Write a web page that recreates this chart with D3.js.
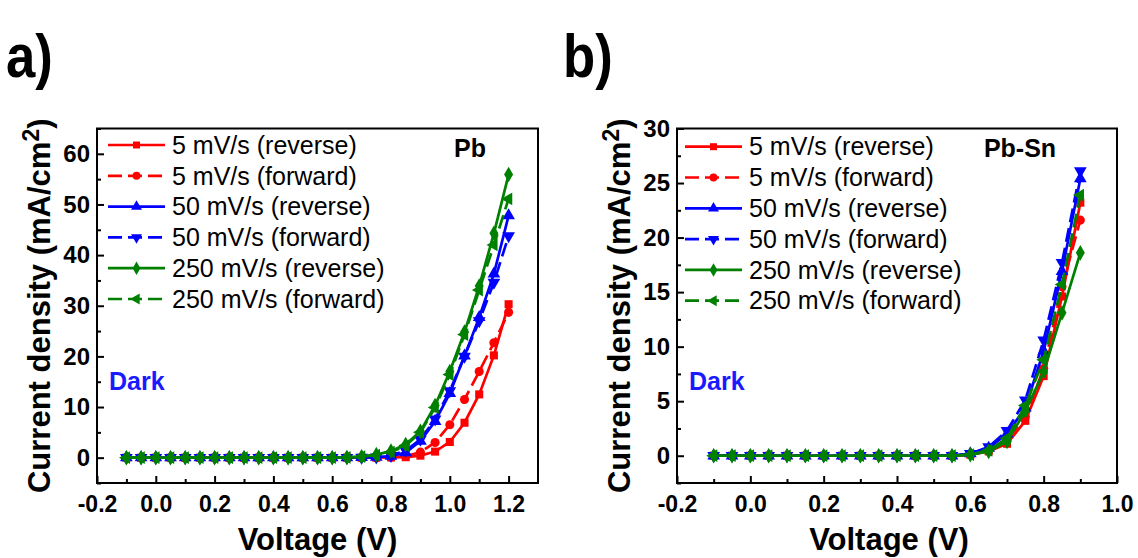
<!DOCTYPE html>
<html>
<head>
<meta charset="utf-8">
<script src="https://cdn.jsdelivr.net/npm/d3@7"></script>
<style>
  body { margin: 0; background: #fff; }
  svg { font-family: "Liberation Sans", Arial, sans-serif; }
  .axis text { font-weight: bold; fill: #000; }
  .axis line { stroke: #000; stroke-width: 2; }
  .axis path { display: none; }
</style>
</head>
<body>
<svg id="chart" width="1138" height="558"></svg>
<script>
// ---- data: panel a (Pb) ----
const voltageA = [-0.1, -0.05, 0, 0.05, 0.1, 0.15, 0.2, 0.25, 0.3, 0.35, 0.4, 0.45, 0.5, 0.55,
                  0.6, 0.65, 0.7, 0.75, 0.8, 0.85, 0.9, 0.95, 1.0, 1.05, 1.1, 1.15, 1.2];
const redRevA   = [0, 0, 0, 0, 0, 0, 0, 0, 0, 0, 0, 0, 0, 0, 0, 0, 0, 0, 0.05, 0.1, 0.4, 1.2, 3.1, 6.9, 12.5, 20.2, 30.3];
const redFwdA   = [0, 0, 0, 0, 0, 0, 0, 0, 0, 0, 0, 0, 0, 0, 0, 0, 0, 0.05, 0.1, 0.3, 1.1, 3.0, 6.5, 11.5, 17.0, 22.7, 28.7];
const blueRevA  = [0, 0, 0, 0, 0, 0, 0, 0, 0, 0, 0, 0, 0, 0, 0, 0, 0.05, 0.1, 0.3, 1.0, 3.3, 7.2, 12.7, 20.1, 27.7, 36.3, 47.8];
const blueFwdA  = [0, 0, 0, 0, 0, 0, 0, 0, 0, 0, 0, 0, 0, 0, 0, 0, 0.05, 0.1, 0.4, 1.4, 3.6, 7.6, 13.2, 20.0, 27.0, 34.6, 43.8];
const greenRevA = [0, 0, 0, 0, 0, 0, 0, 0, 0, 0, 0, 0, 0, 0, 0, 0.05, 0.2, 0.6, 1.3, 2.6, 5.2, 10.3, 17.0, 24.8, 33.9, 44.3, 55.9];
const greenFwdA = [0, 0, 0, 0, 0, 0, 0, 0, 0, 0, 0, 0, 0, 0, 0, 0.05, 0.2, 0.5, 1.1, 2.4, 5.0, 9.9, 16.4, 24.3, 33.1, 42.0, 51.1];

// ---- data: panel b (Pb-Sn) ----
const voltageB = [-0.1, -0.05, 0, 0.05, 0.1, 0.15, 0.2, 0.25, 0.3, 0.35, 0.4, 0.45, 0.5, 0.55,
                  0.6, 0.65, 0.7, 0.75, 0.8, 0.85, 0.9];
const redRevB   = [0, 0, 0, 0, 0, 0, 0, 0, 0, 0, 0, 0, 0, 0, 0.1, 0.4, 1.1, 3.2, 7.3, 14.6, 23.2];
const redFwdB   = [0, 0, 0, 0, 0, 0, 0, 0, 0, 0, 0, 0, 0, 0, 0.1, 0.5, 1.4, 3.6, 8.0, 15.5, 21.6];
const blueRevB  = [0, 0, 0, 0, 0, 0, 0, 0, 0, 0, 0, 0, 0, 0, 0.2, 0.7, 2.0, 4.4, 9.6, 16.9, 25.4];
const blueFwdB  = [0, 0, 0, 0, 0, 0, 0, 0, 0, 0, 0, 0, 0, 0, 0.2, 0.8, 2.3, 5.1, 10.6, 17.7, 26.1];
const greenRevB = [0, 0, 0, 0, 0, 0, 0, 0, 0, 0, 0, 0, 0, 0, 0.1, 0.4, 1.3, 4.1, 7.7, 13.1, 18.6];
const greenFwdB = [0, 0, 0, 0, 0, 0, 0, 0, 0, 0, 0, 0, 0, 0, 0.1, 0.5, 1.6, 4.6, 8.8, 15.7, 23.9];

// ---- legend / ticks ----
const seriesNames = ['5 mV/s (reverse)', '5 mV/s (forward)', '50 mV/s (reverse)',
                     '50 mV/s (forward)', '250 mV/s (reverse)', '250 mV/s (forward)'];
const xTicksA = [-0.2, 0.0, 0.2, 0.4, 0.6, 0.8, 1.0, 1.2];
const xMinorA = [-0.1, 0.1, 0.3, 0.5, 0.7, 0.9, 1.1];
const yTicksA = [0, 10, 20, 30, 40, 50, 60];
const yMinorA = [-5, 5, 15, 25, 35, 45, 55, 65];
const xTicksB = [-0.2, 0.0, 0.2, 0.4, 0.6, 0.8, 1.0];
const xMinorB = [-0.1, 0.1, 0.3, 0.5, 0.7, 0.9];
const yTicksB = [0, 5, 10, 15, 20, 25, 30];
const yMinorB = [-2.5, 2.5, 7.5, 12.5, 17.5, 22.5, 27.5];

// styles for the six sweeps
const seriesStyle = [
    { color: '#ff0000', dash: null,   symbol: d3.symbolSquare,   size: 65, rot: 0 },
    { color: '#ff0000', dash: '14,6', symbol: d3.symbolCircle,   size: 65, rot: 0 },
    { color: '#0000ff', dash: null,   symbol: d3.symbolTriangle, size: 70, rot: 0 },
    { color: '#0000ff', dash: '14,6', symbol: d3.symbolTriangle, size: 70, rot: 180 },
    { color: '#008000', dash: null,   symbol: d3.symbolDiamond,  size: 70, rot: 0 },
    { color: '#008000', dash: '14,6', symbol: d3.symbolTriangle, size: 70, rot: -90 }
];

class JVChart {
    constructor(_config, _x, _series) {
        this.config = _config;
        this.xData = _x;
        this.series = _series;
        this.initVis();
    }

    initVis() {
        let vis = this;
        const c = vis.config;
        vis.svg = d3.select('#chart');
        vis.g = vis.svg.append('g');

        vis.xScale = d3.scaleLinear().domain(c.xDomain).range([c.left, c.right]);
        vis.yScale = d3.scaleLinear().domain(c.yDomain).range([c.bottom, c.top]);

        // minor ticks first
        vis.g.append('g')
            .attr('class', 'axis')
            .attr('transform', `translate(0,${c.bottom})`)
            .call(d3.axisBottom(vis.xScale).tickValues(c.xMinor).tickSize(-4).tickFormat(''));
        vis.g.append('g')
            .attr('class', 'axis')
            .attr('transform', `translate(${c.left},0)`)
            .call(d3.axisLeft(vis.yScale).tickValues(c.yMinor).tickSize(-4).tickFormat(''));

        // major ticks with labels
        vis.g.append('g')
            .attr('class', 'axis')
            .attr('transform', `translate(0,${c.bottom})`)
            .call(d3.axisBottom(vis.xScale).tickValues(c.xTicks).tickSize(-7).tickPadding(13)
                .tickFormat(d => d.toFixed(1)))
            .selectAll('text').style('font-size', '23px');
        vis.g.append('g')
            .attr('class', 'axis')
            .attr('transform', `translate(${c.left},0)`)
            .call(d3.axisLeft(vis.yScale).tickValues(c.yTicks).tickSize(-7).tickPadding(7))
            .selectAll('text').style('font-size', '24px');

        // frame
        vis.g.append('rect')
            .attr('x', c.left).attr('y', c.top)
            .attr('width', c.right - c.left).attr('height', c.bottom - c.top)
            .attr('fill', 'none').attr('stroke', '#000').attr('stroke-width', 2);

        // axis titles
        vis.g.append('text')
            .attr('x', c.xTitleX).attr('y', 550)
            .attr('text-anchor', 'middle')
            .style('font-size', '31px').style('font-weight', 'bold')
            .text('Voltage (V)');

        const yt = vis.g.append('text')
            .attr('transform', `translate(${c.yTitleX},${(c.top + c.bottom) / 2}) rotate(-90)`)
            .attr('text-anchor', 'middle')
            .style('font-size', '31px').style('font-weight', 'bold');
        yt.append('tspan').text('Current density (mA/cm');
        yt.append('tspan').attr('dy', -11).style('font-size', '23px').text('2');
        yt.append('tspan').attr('dy', 11).text(')');

        // panel letter
        vis.g.append('text')
            .attr('x', c.letterX).attr('y', 77)
            .style('font-size', '62px').style('font-weight', 'bold')
            .attr('transform', `translate(${c.letterX},0) scale(0.85,1) translate(${-c.letterX},0)`)
            .text(c.letter);

        // material label and Dark
        vis.g.append('text')
            .attr('x', c.matX).attr('y', 157)
            .attr('text-anchor', 'middle')
            .style('font-size', '25px').style('font-weight', 'bold')
            .text(c.material);
        vis.g.append('text')
            .attr('x', c.left + 12).attr('y', 390)
            .style('font-size', '25px').style('font-weight', 'bold')
            .attr('fill', '#1a1aff')
            .text('Dark');
    }

    renderVis() {
        let vis = this;
        const c = vis.config;

        const line = d3.line()
            .x(d => vis.xScale(d[0]))
            .y(d => vis.yScale(d[1]));

        vis.series.forEach((vals, i) => {
            const st = seriesStyle[i];
            const pts = vis.xData.map((v, j) => [v, vals[j]]);
            const sg = vis.g.append('g');
            sg.append('path')
                .datum(pts)
                .attr('d', line)
                .attr('fill', 'none')
                .attr('stroke', st.color)
                .attr('stroke-width', 2.7)
                .attr('stroke-dasharray', st.dash);
            sg.selectAll('path.marker')
                .data(pts)
                .join('path')
                .attr('class', 'marker')
                .attr('d', d3.symbol().type(st.symbol).size(st.size))
                .attr('transform', d => `translate(${vis.xScale(d[0])},${vis.yScale(d[1])}) rotate(${st.rot})`)
                .attr('fill', st.color);
        });

        // legend
        const leg = vis.g.append('g');
        seriesNames.forEach((name, i) => {
            const st = seriesStyle[i];
            const y = c.legY + i * 30.8;
            leg.append('line')
                .attr('x1', c.legX).attr('x2', c.legX + 57)
                .attr('y1', y).attr('y2', y)
                .attr('stroke', st.color).attr('stroke-width', 2.7)
                .attr('stroke-dasharray', st.dash);
            leg.append('path')
                .attr('d', d3.symbol().type(st.symbol).size(st.size * 0.75))
                .attr('transform', `translate(${c.legX + 28.5},${y}) rotate(${st.rot})`)
                .attr('fill', st.color);
            leg.append('text')
                .attr('x', c.legX + 64).attr('y', y)
                .attr('dy', '0.35em')
                .style('font-size', '25px')
                .text(name);
        });
    }
}

const chartA = new JVChart({
    left: 97, right: 538, top: 128.5, bottom: 483,
    xDomain: [-0.2, 1.3], yDomain: [-5, 65],
    xTicks: xTicksA, xMinor: xMinorA, yTicks: yTicksA, yMinor: yMinorA,
    xTitleX: 317.5, yTitleX: 50, letter: 'a)', letterX: 6,
    material: 'Pb', matX: 470, legX: 108, legY: 145
}, voltageA, [redRevA, redFwdA, blueRevA, blueFwdA, greenRevA, greenFwdA]);
chartA.renderVis();

const chartB = new JVChart({
    left: 677, right: 1117, top: 128.5, bottom: 483,
    xDomain: [-0.2, 1.0], yDomain: [-2.5, 30],
    xTicks: xTicksB, xMinor: xMinorB, yTicks: yTicksB, yMinor: yMinorB,
    xTitleX: 889, yTitleX: 630, letter: 'b)', letterX: 563,
    material: 'Pb-Sn', matX: 1020, legX: 685, legY: 146.7
}, voltageB, [redRevB, redFwdB, blueRevB, blueFwdB, greenRevB, greenFwdB]);
chartB.renderVis();
</script>
</body>
</html>
